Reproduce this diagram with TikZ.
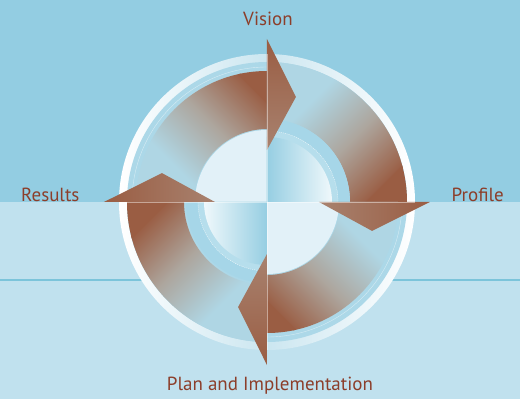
\documentclass[tikz,border=0pt]{standalone}
\usepackage{fontspec}
\setmainfont{PT Sans}
\usepackage{tikz}
\usepackage{xcolor}
\definecolor{skyblue}{HTML}{93CDE2}
\definecolor{paleblue}{HTML}{C0E1EE}
\definecolor{lineblue}{HTML}{7CC4DA}
\definecolor{discblue}{HTML}{ACD8E8}
\definecolor{ringblue}{HTML}{A6D6E8}
\definecolor{ringlight}{HTML}{B6DEEC}
\definecolor{rimblue}{HTML}{CBE6F0}
\definecolor{coreblue}{HTML}{E2F1F8}
\definecolor{corewhite}{HTML}{EFF8FB}
\definecolor{coredeep}{HTML}{96CEE2}
\definecolor{bandblue}{HTML}{AFD6E4}
\definecolor{bandgrey}{HTML}{ADA69E}
\definecolor{brownish}{HTML}{9A5D43}
\definecolor{headlight}{HTML}{A8826F}
\definecolor{textbrown}{HTML}{8C3E2A}
\tikzset{steplabel/.style={text=textbrown, font=\fontsize{19}{22}\selectfont, inner sep=0pt}}

\begin{document}
\begin{tikzpicture}[x=1pt,y=1pt]
\useasboundingbox (-267,-197) rectangle (253,202);
% background bands
\fill [paleblue] (-267,-197) rectangle (253,0);
\fill [skyblue] (-267,0) rectangle (253,202);
\draw [lineblue] [line width=1.3] (-267,-78) -- (253,-78);

% disc and white rim
\shade [left color=white, right color=white, middle color=rimblue] (0,0) circle (148);
\fill [discblue] (0,0) circle (140);
\draw [white, opacity=.5, line width=.4] (0,0) circle (135);

% four bands of the cycle, blue at the start, brown at the head
\foreach \a/\ri/\ro in {0/73/131, -90/83/140, -180/73/131, -270/83/140}{
  \begin{scope}
    \clip (180+\a:\ro) arc[start angle=180+\a, end angle=90+\a, radius=\ro]
      -- (90+\a:\ri) arc[start angle=90+\a, end angle=180+\a, radius=\ri] -- cycle;
    \fill [bandblue] (-150,-150) rectangle (150,150);
    \begin{scope}[transform canvas={rotate=\a-45}]
      \shade [bottom color=bandblue, top color=brownish, middle color=bandgrey] (-160,-40) rectangle (160,72);
      \fill [brownish] (-160,70) rectangle (160,200);
    \end{scope}
  \end{scope}
}

% centre pieces
\fill [coreblue] (0,0) -- (180:72) arc[start angle=180, end angle=90, radius=72] -- cycle;
\fill [coreblue] (0,0) -- (0:72) arc[start angle=0, end angle=-90, radius=72] -- cycle;
\fill [ringblue] (0,0) -- (90:83) arc[start angle=90, end angle=0, radius=83] -- cycle;
\fill [ringblue] (0,0) -- (-90:81) arc[start angle=-90, end angle=-180, radius=81] -- cycle;
\fill [ringlight] (0,0) -- (90:71) arc[start angle=90, end angle=0, radius=71] -- cycle;
\fill [ringlight] (0,0) -- (-90:69) arc[start angle=-90, end angle=-180, radius=69] -- cycle;
\draw [white, dash pattern=on 1pt off 1pt, line width=.3] (90:71) arc[start angle=90, end angle=0, radius=71];
\draw [white, dash pattern=on 1pt off 1pt, line width=.3] (-90:69) arc[start angle=-90, end angle=-180, radius=69];
\shade [left color=coredeep, right color=corewhite] (0,0) -- (90:65) arc[start angle=90, end angle=0, radius=65] -- cycle;
\shade [left color=corewhite, right color=coredeep] (0,0) -- (-90:63) arc[start angle=-90, end angle=-180, radius=63] -- cycle;

% arrow heads
\foreach \a in {0,-90,-180,-270}
  \shade [top color=brownish, bottom color=headlight, shading angle=\a]
    (90+\a:163) -- (74.6+\a:109) -- (90+\a:52) -- cycle;

% seams
\draw [white, opacity=.45, line width=.5] (0,-148) -- (0,148);
\draw [white, opacity=.45, line width=.5] (-148,0) -- (148,0);

% labels
\node [steplabel, anchor=base] (vision) at (1,176) {Vision};
\node [steplabel, anchor=base east] (profile) at (237,0) {Profile};
\node [steplabel, anchor=base] (plan) at (3,-188) {Plan and Implementation};
\node [steplabel, anchor=base west] (results) at (-246,0) {Results};
\end{tikzpicture}
\end{document}
